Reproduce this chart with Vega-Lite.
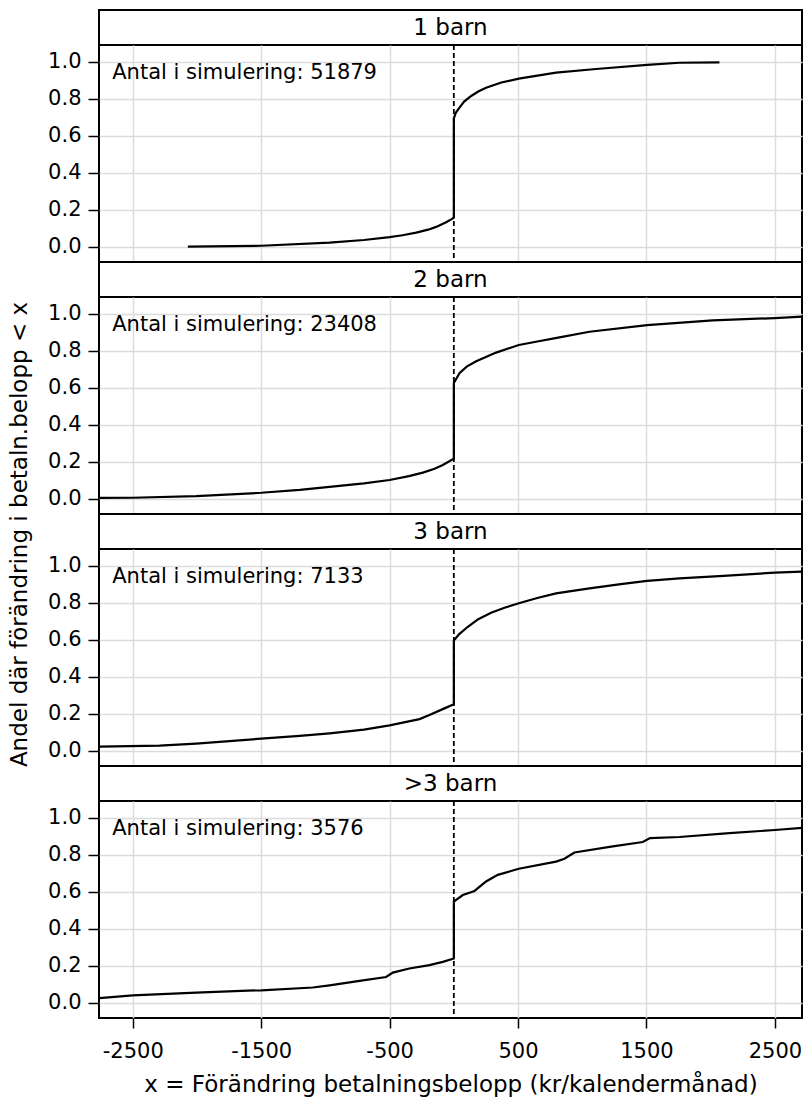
{
  "$schema": "https://vega.github.io/schema/vega-lite/v6.json",
  "background": "white",
  "padding": {"left": 6, "top": 9, "right": 1, "bottom": 0},
  "autosize": {"type": "pad"},
  "spacing": 0,
  "bounds": "flush",
  "config": {
    "font": "DejaVu Sans",
    "view": {"stroke": "black", "strokeWidth": 2},
    "axis": {
      "gridColor": "#dcdcdc",
      "gridWidth": 1.5,
      "gridOpacity": 1,
      "labelColor": "black",
      "labelFont": "DejaVu Sans",
      "labelFontSize": 21,
      "tickColor": "black",
      "tickWidth": 1.5,
      "titleFont": "DejaVu Sans",
      "titleFontSize": 23,
      "titleFontWeight": "normal",
      "titleColor": "black",
      "domain": false
    }
  },
  "datasets": {
    "panels": [
      {"panel": "1 barn", "n": "Antal i simulering: 51879"},
      {"panel": "2 barn", "n": "Antal i simulering: 23408"},
      {"panel": "3 barn", "n": "Antal i simulering: 7133"},
      {"panel": ">3 barn", "n": "Antal i simulering: 3576"}
    ],
    "curves": [
      {"panel": "1 barn", "i": 0, "x": -2071, "y": 0.0},
      {"panel": "1 barn", "i": 1, "x": -1500, "y": 0.005},
      {"panel": "1 barn", "i": 2, "x": -968, "y": 0.022},
      {"panel": "1 barn", "i": 3, "x": -700, "y": 0.036},
      {"panel": "1 barn", "i": 4, "x": -500, "y": 0.052},
      {"panel": "1 barn", "i": 5, "x": -400, "y": 0.062},
      {"panel": "1 barn", "i": 6, "x": -293, "y": 0.076},
      {"panel": "1 barn", "i": 7, "x": -200, "y": 0.092},
      {"panel": "1 barn", "i": 8, "x": -138, "y": 0.107},
      {"panel": "1 barn", "i": 9, "x": -60, "y": 0.132},
      {"panel": "1 barn", "i": 10, "x": -20, "y": 0.148},
      {"panel": "1 barn", "i": 11, "x": 0, "y": 0.157},
      {"panel": "1 barn", "i": 12, "x": 0, "y": 0.695},
      {"panel": "1 barn", "i": 13, "x": 15, "y": 0.725},
      {"panel": "1 barn", "i": 14, "x": 44, "y": 0.753},
      {"panel": "1 barn", "i": 15, "x": 80, "y": 0.786},
      {"panel": "1 barn", "i": 16, "x": 135, "y": 0.816},
      {"panel": "1 barn", "i": 17, "x": 190, "y": 0.840},
      {"panel": "1 barn", "i": 18, "x": 251, "y": 0.861},
      {"panel": "1 barn", "i": 19, "x": 370, "y": 0.889},
      {"panel": "1 barn", "i": 20, "x": 506, "y": 0.910},
      {"panel": "1 barn", "i": 21, "x": 796, "y": 0.942},
      {"panel": "1 barn", "i": 22, "x": 1108, "y": 0.962},
      {"panel": "1 barn", "i": 23, "x": 1505, "y": 0.984},
      {"panel": "1 barn", "i": 24, "x": 1756, "y": 0.996},
      {"panel": "1 barn", "i": 25, "x": 2068, "y": 0.998},

      {"panel": "2 barn", "i": 0, "x": -2759, "y": 0.004},
      {"panel": "2 barn", "i": 1, "x": -2500, "y": 0.005},
      {"panel": "2 barn", "i": 2, "x": -2006, "y": 0.014},
      {"panel": "2 barn", "i": 3, "x": -1500, "y": 0.032},
      {"panel": "2 barn", "i": 4, "x": -1200, "y": 0.048},
      {"panel": "2 barn", "i": 5, "x": -968, "y": 0.064},
      {"panel": "2 barn", "i": 6, "x": -700, "y": 0.083},
      {"panel": "2 barn", "i": 7, "x": -500, "y": 0.101},
      {"panel": "2 barn", "i": 8, "x": -350, "y": 0.122},
      {"panel": "2 barn", "i": 9, "x": -241, "y": 0.141},
      {"panel": "2 barn", "i": 10, "x": -150, "y": 0.162},
      {"panel": "2 barn", "i": 11, "x": -86, "y": 0.182},
      {"panel": "2 barn", "i": 12, "x": 0, "y": 0.217},
      {"panel": "2 barn", "i": 13, "x": 0, "y": 0.626},
      {"panel": "2 barn", "i": 14, "x": 44, "y": 0.680},
      {"panel": "2 barn", "i": 15, "x": 100, "y": 0.715},
      {"panel": "2 barn", "i": 16, "x": 174, "y": 0.744},
      {"panel": "2 barn", "i": 17, "x": 329, "y": 0.791},
      {"panel": "2 barn", "i": 18, "x": 506, "y": 0.832},
      {"panel": "2 barn", "i": 19, "x": 650, "y": 0.851},
      {"panel": "2 barn", "i": 20, "x": 812, "y": 0.872},
      {"panel": "2 barn", "i": 21, "x": 1056, "y": 0.904},
      {"panel": "2 barn", "i": 22, "x": 1505, "y": 0.940},
      {"panel": "2 barn", "i": 23, "x": 2016, "y": 0.965},
      {"panel": "2 barn", "i": 24, "x": 2500, "y": 0.978},
      {"panel": "2 barn", "i": 25, "x": 2711, "y": 0.986},

      {"panel": "3 barn", "i": 0, "x": -2759, "y": 0.022},
      {"panel": "3 barn", "i": 1, "x": -2292, "y": 0.027},
      {"panel": "3 barn", "i": 2, "x": -2006, "y": 0.038},
      {"panel": "3 barn", "i": 3, "x": -1500, "y": 0.065},
      {"panel": "3 barn", "i": 4, "x": -1200, "y": 0.080},
      {"panel": "3 barn", "i": 5, "x": -968, "y": 0.094},
      {"panel": "3 barn", "i": 6, "x": -700, "y": 0.114},
      {"panel": "3 barn", "i": 7, "x": -500, "y": 0.137},
      {"panel": "3 barn", "i": 8, "x": -267, "y": 0.171},
      {"panel": "3 barn", "i": 9, "x": -190, "y": 0.193},
      {"panel": "3 barn", "i": 10, "x": -73, "y": 0.229},
      {"panel": "3 barn", "i": 11, "x": 0, "y": 0.251},
      {"panel": "3 barn", "i": 12, "x": 0, "y": 0.596},
      {"panel": "3 barn", "i": 13, "x": 40, "y": 0.630},
      {"panel": "3 barn", "i": 14, "x": 109, "y": 0.671},
      {"panel": "3 barn", "i": 15, "x": 190, "y": 0.712},
      {"panel": "3 barn", "i": 16, "x": 290, "y": 0.747},
      {"panel": "3 barn", "i": 17, "x": 400, "y": 0.775},
      {"panel": "3 barn", "i": 18, "x": 506, "y": 0.798},
      {"panel": "3 barn", "i": 19, "x": 650, "y": 0.827},
      {"panel": "3 barn", "i": 20, "x": 796, "y": 0.852},
      {"panel": "3 barn", "i": 21, "x": 1056, "y": 0.879},
      {"panel": "3 barn", "i": 22, "x": 1300, "y": 0.902},
      {"panel": "3 barn", "i": 23, "x": 1505, "y": 0.919},
      {"panel": "3 barn", "i": 24, "x": 1756, "y": 0.933},
      {"panel": "3 barn", "i": 25, "x": 2100, "y": 0.947},
      {"panel": "3 barn", "i": 26, "x": 2500, "y": 0.964},
      {"panel": "3 barn", "i": 27, "x": 2711, "y": 0.969},

      {"panel": ">3 barn", "i": 0, "x": -2759, "y": 0.025},
      {"panel": ">3 barn", "i": 1, "x": -2500, "y": 0.040},
      {"panel": ">3 barn", "i": 2, "x": -2006, "y": 0.054},
      {"panel": ">3 barn", "i": 3, "x": -1604, "y": 0.065},
      {"panel": ">3 barn", "i": 4, "x": -1500, "y": 0.067},
      {"panel": ">3 barn", "i": 5, "x": -1098, "y": 0.082},
      {"panel": ">3 barn", "i": 6, "x": -968, "y": 0.094},
      {"panel": ">3 barn", "i": 7, "x": -708, "y": 0.121},
      {"panel": ">3 barn", "i": 8, "x": -527, "y": 0.139},
      {"panel": ">3 barn", "i": 9, "x": -475, "y": 0.163},
      {"panel": ">3 barn", "i": 10, "x": -346, "y": 0.185},
      {"panel": ">3 barn", "i": 11, "x": -190, "y": 0.203},
      {"panel": ">3 barn", "i": 12, "x": -86, "y": 0.221},
      {"panel": ">3 barn", "i": 13, "x": 0, "y": 0.239},
      {"panel": ">3 barn", "i": 14, "x": 0, "y": 0.547},
      {"panel": ">3 barn", "i": 15, "x": 70, "y": 0.583},
      {"panel": ">3 barn", "i": 16, "x": 161, "y": 0.605},
      {"panel": ">3 barn", "i": 17, "x": 251, "y": 0.656},
      {"panel": ">3 barn", "i": 18, "x": 342, "y": 0.692},
      {"panel": ">3 barn", "i": 19, "x": 506, "y": 0.725},
      {"panel": ">3 barn", "i": 20, "x": 796, "y": 0.764},
      {"panel": ">3 barn", "i": 21, "x": 861, "y": 0.779},
      {"panel": ">3 barn", "i": 22, "x": 939, "y": 0.813},
      {"panel": ">3 barn", "i": 23, "x": 1238, "y": 0.846},
      {"panel": ">3 barn", "i": 24, "x": 1471, "y": 0.870},
      {"panel": ">3 barn", "i": 25, "x": 1528, "y": 0.891},
      {"panel": ">3 barn", "i": 26, "x": 1756, "y": 0.897},
      {"panel": ">3 barn", "i": 27, "x": 2146, "y": 0.918},
      {"panel": ">3 barn", "i": 28, "x": 2500, "y": 0.935},
      {"panel": ">3 barn", "i": 29, "x": 2711, "y": 0.946}
    ]
  },
  "vconcat": [
    {
      "width": 703, "height": 35,
      "data": {"name": "panels"},
      "transform": [{"filter": "datum.panel == '1 barn'"}],
      "layer": [
        {"mark": {"type": "rect", "fill": "white", "stroke": "black", "strokeWidth": 2}, "encoding": {}},
        {"mark": {"type": "text", "fontSize": 23, "color": "black"}, "encoding": {"text": {"field": "panel"}}}
      ]
    },
    {
      "width": 703, "height": 217,
      "layer": [
        {
          "data": {"name": "curves"},
          "transform": [{"filter": "datum.panel == '1 barn'"}],
          "mark": {"type": "line", "color": "black", "strokeWidth": 2.2, "clip": true},
          "encoding": {
            "x": {"field": "x", "type": "quantitative", "scale": {"domain": [-2763, 2711], "nice": false, "zero": false},
                  "axis": {"values": [-2500, -1500, -500, 500, 1500, 2500], "labels": false, "ticks": false, "title": null, "grid": true}},
            "y": {"field": "y", "type": "quantitative", "scale": {"domain": [-0.083, 1.092], "nice": false, "zero": false},
                  "axis": {"values": [0, 0.2, 0.4, 0.6, 0.8, 1.0], "format": ".1f", "tickSize": 11, "labelPadding": 7, "title": null, "grid": true}},
            "order": {"field": "i"}
          }
        },
        {
          "data": {"name": "panels"},
          "transform": [{"filter": "datum.panel == '1 barn'"}],
          "mark": {"type": "rule", "color": "black", "strokeWidth": 1.8, "strokeDash": [5, 3]},
          "encoding": {"x": {"datum": 0}}
        },
        {
          "data": {"name": "panels"},
          "transform": [{"filter": "datum.panel == '1 barn'"}],
          "mark": {"type": "text", "align": "left", "baseline": "middle", "fontSize": 21, "color": "black"},
          "encoding": {"x": {"datum": -2660}, "y": {"datum": 0.94}, "text": {"field": "n"}}
        }
      ]
    },
    {
      "width": 703, "height": 35,
      "data": {"name": "panels"},
      "transform": [{"filter": "datum.panel == '2 barn'"}],
      "layer": [
        {"mark": {"type": "rect", "fill": "white", "stroke": "black", "strokeWidth": 2}, "encoding": {}},
        {"mark": {"type": "text", "fontSize": 23, "color": "black"}, "encoding": {"text": {"field": "panel"}}}
      ]
    },
    {
      "width": 703, "height": 217,
      "layer": [
        {
          "data": {"name": "curves"},
          "transform": [{"filter": "datum.panel == '2 barn'"}],
          "mark": {"type": "line", "color": "black", "strokeWidth": 2.2, "clip": true},
          "encoding": {
            "x": {"field": "x", "type": "quantitative", "scale": {"domain": [-2763, 2711], "nice": false, "zero": false},
                  "axis": {"values": [-2500, -1500, -500, 500, 1500, 2500], "labels": false, "ticks": false, "title": null, "grid": true}},
            "y": {"field": "y", "type": "quantitative", "scale": {"domain": [-0.083, 1.092], "nice": false, "zero": false},
                  "axis": {"values": [0, 0.2, 0.4, 0.6, 0.8, 1.0], "format": ".1f", "tickSize": 11, "labelPadding": 7, "grid": true,
                           "title": "Andel där förändring i betaln.belopp < x", "titleAngle": 270, "titleAlign": "center", "titleBaseline": "middle",
                           "titleX": -80, "titleY": 237}},
            "order": {"field": "i"}
          }
        },
        {
          "data": {"name": "panels"},
          "transform": [{"filter": "datum.panel == '2 barn'"}],
          "mark": {"type": "rule", "color": "black", "strokeWidth": 1.8, "strokeDash": [5, 3]},
          "encoding": {"x": {"datum": 0}}
        },
        {
          "data": {"name": "panels"},
          "transform": [{"filter": "datum.panel == '2 barn'"}],
          "mark": {"type": "text", "align": "left", "baseline": "middle", "fontSize": 21, "color": "black"},
          "encoding": {"x": {"datum": -2660}, "y": {"datum": 0.94}, "text": {"field": "n"}}
        }
      ]
    },
    {
      "width": 703, "height": 35,
      "data": {"name": "panels"},
      "transform": [{"filter": "datum.panel == '3 barn'"}],
      "layer": [
        {"mark": {"type": "rect", "fill": "white", "stroke": "black", "strokeWidth": 2}, "encoding": {}},
        {"mark": {"type": "text", "fontSize": 23, "color": "black"}, "encoding": {"text": {"field": "panel"}}}
      ]
    },
    {
      "width": 703, "height": 217,
      "layer": [
        {
          "data": {"name": "curves"},
          "transform": [{"filter": "datum.panel == '3 barn'"}],
          "mark": {"type": "line", "color": "black", "strokeWidth": 2.2, "clip": true},
          "encoding": {
            "x": {"field": "x", "type": "quantitative", "scale": {"domain": [-2763, 2711], "nice": false, "zero": false},
                  "axis": {"values": [-2500, -1500, -500, 500, 1500, 2500], "labels": false, "ticks": false, "title": null, "grid": true}},
            "y": {"field": "y", "type": "quantitative", "scale": {"domain": [-0.083, 1.092], "nice": false, "zero": false},
                  "axis": {"values": [0, 0.2, 0.4, 0.6, 0.8, 1.0], "format": ".1f", "tickSize": 11, "labelPadding": 7, "title": null, "grid": true}},
            "order": {"field": "i"}
          }
        },
        {
          "data": {"name": "panels"},
          "transform": [{"filter": "datum.panel == '3 barn'"}],
          "mark": {"type": "rule", "color": "black", "strokeWidth": 1.8, "strokeDash": [5, 3]},
          "encoding": {"x": {"datum": 0}}
        },
        {
          "data": {"name": "panels"},
          "transform": [{"filter": "datum.panel == '3 barn'"}],
          "mark": {"type": "text", "align": "left", "baseline": "middle", "fontSize": 21, "color": "black"},
          "encoding": {"x": {"datum": -2660}, "y": {"datum": 0.94}, "text": {"field": "n"}}
        }
      ]
    },
    {
      "width": 703, "height": 35,
      "data": {"name": "panels"},
      "transform": [{"filter": "datum.panel == '>3 barn'"}],
      "layer": [
        {"mark": {"type": "rect", "fill": "white", "stroke": "black", "strokeWidth": 2}, "encoding": {}},
        {"mark": {"type": "text", "fontSize": 23, "color": "black"}, "encoding": {"text": {"field": "panel"}}}
      ]
    },
    {
      "width": 703, "height": 217,
      "layer": [
        {
          "data": {"name": "curves"},
          "transform": [{"filter": "datum.panel == '>3 barn'"}],
          "mark": {"type": "line", "color": "black", "strokeWidth": 2.2, "clip": true},
          "encoding": {
            "x": {"field": "x", "type": "quantitative", "scale": {"domain": [-2763, 2711], "nice": false, "zero": false},
                  "axis": {"values": [-2500, -1500, -500, 500, 1500, 2500], "labelExpr": "'' + datum.value", "tickSize": 10, "labelPadding": 12, "grid": true,
                           "title": "x = Förändring betalningsbelopp (kr/kalendermånad)", "titlePadding": 12}},
            "y": {"field": "y", "type": "quantitative", "scale": {"domain": [-0.083, 1.092], "nice": false, "zero": false},
                  "axis": {"values": [0, 0.2, 0.4, 0.6, 0.8, 1.0], "format": ".1f", "tickSize": 11, "labelPadding": 7, "title": null, "grid": true}},
            "order": {"field": "i"}
          }
        },
        {
          "data": {"name": "panels"},
          "transform": [{"filter": "datum.panel == '>3 barn'"}],
          "mark": {"type": "rule", "color": "black", "strokeWidth": 1.8, "strokeDash": [5, 3]},
          "encoding": {"x": {"datum": 0}}
        },
        {
          "data": {"name": "panels"},
          "transform": [{"filter": "datum.panel == '>3 barn'"}],
          "mark": {"type": "text", "align": "left", "baseline": "middle", "fontSize": 21, "color": "black"},
          "encoding": {"x": {"datum": -2660}, "y": {"datum": 0.94}, "text": {"field": "n"}}
        }
      ]
    }
  ]
}
